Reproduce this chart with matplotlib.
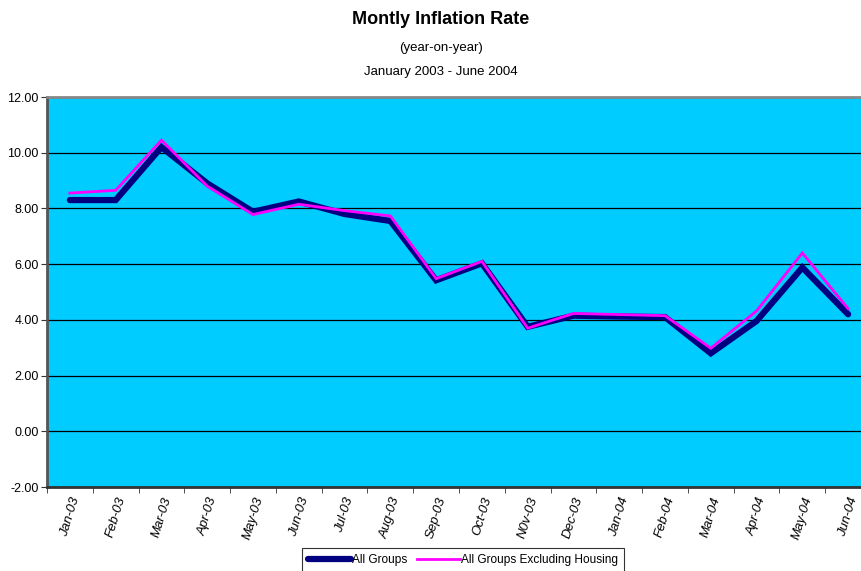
import matplotlib
matplotlib.use("Agg")
import matplotlib.pyplot as plt
from matplotlib.ticker import FixedLocator, FormatStrFormatter

plt.rcParams['font.family'] = ['Liberation Sans', 'DejaVu Sans']

months = ['Jan-03', 'Feb-03', 'Mar-03', 'Apr-03', 'May-03', 'Jun-03', 'Jul-03', 'Aug-03', 'Sep-03',
          'Oct-03', 'N0v-03', 'Dec-03', 'Jan-04', 'Feb-04', 'Mar-04', 'Apr-04', 'May-04', 'Jun-04']
all_groups = [8.30, 8.30, 10.20, 8.90, 7.88, 8.25, 7.80, 7.55, 5.42, 6.03,
              3.75, 4.15, 4.12, 4.10, 2.80, 3.96, 5.88, 4.20]
excl_housing = [8.55, 8.65, 10.45, 8.80, 7.78, 8.15, 7.92, 7.73, 5.48, 6.10,
                3.70, 4.23, 4.19, 4.15, 2.98, 4.32, 6.40, 4.40]

W, H = 861, 571
fig = plt.figure(figsize=(W / 100, H / 100), dpi=100)
ax = fig.add_axes([47 / W, 1 - 487 / H, (871 - 47) / W, 390 / H])
ax.set_facecolor('#00CCFF')

x = list(range(len(months)))
ax.plot(x, all_groups, color='#000080', lw=4.5, solid_capstyle='round',
        solid_joinstyle='miter', label='All Groups', zorder=3)
ax.plot(x, excl_housing, color='#FF00FF', lw=2, solid_joinstyle='miter',
        label='All Groups Excluding Housing', zorder=4)

ax.set_xlim(-0.5, len(months) - 0.5)
ax.set_ylim(-2, 12)
ax.set_yticks(range(-2, 13, 2))
ax.yaxis.set_major_formatter(FormatStrFormatter('%.2f'))
ax.yaxis.grid(True, color='black', lw=0.9)
ax.set_axisbelow(True)

ax.set_xticks(x)
ax.set_xticklabels(months, rotation=73, fontsize=9.5, style='italic',
                   ha='center', va='top')
ax.xaxis.set_minor_locator(FixedLocator([i - 0.5 for i in range(len(months) + 1)]))
ax.tick_params(axis='x', which='major', length=0, pad=6)
ax.tick_params(axis='x', which='minor', length=4, color='#333333', direction='out')
ax.tick_params(axis='y', length=4, labelsize=9, color='#333333', pad=2)

ax.spines['top'].set_color('#888888')
ax.spines['top'].set_linewidth(2)
ax.spines['left'].set_color('#555555')
ax.spines['left'].set_linewidth(2)
ax.spines['bottom'].set_color('#333333')
ax.spines['bottom'].set_linewidth(2)
ax.spines['right'].set_visible(False)

fig.text(441 / W, 1 - 20 / H, 'Montly Inflation Rate', ha='center', va='center',
         fontsize=13, fontweight='bold')
fig.text(441 / W, 1 - 48 / H, '(year-on-year)', ha='center', va='center', fontsize=9.5)
fig.text(441 / W, 1 - 72 / H, 'January 2003 - June 2004', ha='center', va='center', fontsize=9.5)

leg = fig.legend(loc='upper center', bbox_to_anchor=(463 / W, 1 - 548 / H), ncol=2,
                 fontsize=8.6, frameon=True, fancybox=False, edgecolor='black',
                 handlelength=3.6, handletextpad=0.1, columnspacing=0.8,
                 borderpad=0.5, borderaxespad=0)
leg.get_frame().set_linewidth(0.8)

fig.savefig('out.png', dpi=100)
